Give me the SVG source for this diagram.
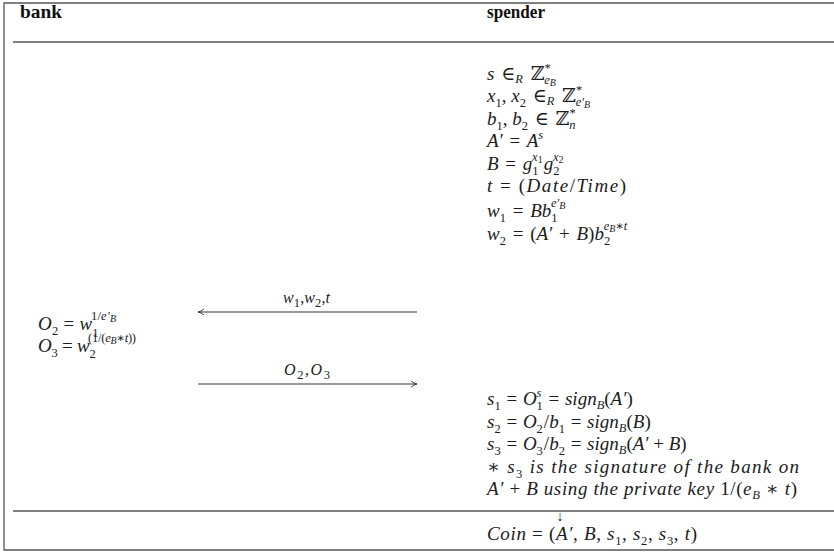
<svg xmlns="http://www.w3.org/2000/svg" width="834" height="554" viewBox="0 0 834 554">
<style>
.t{font-family:"Liberation Serif","DejaVu Serif",serif;font-size:19px;font-style:italic;fill:#1c1c1c}
.h{font-family:"Liberation Serif",serif;font-size:18px;font-weight:bold;fill:#111}
.r{font-style:normal}
.s{font-size:12.5px}
.x{font-size:10px}
.ln{stroke:#555;stroke-width:1.3;fill:none}
.ar{stroke:#333;stroke-width:1;fill:none}
</style>
<defs>
<marker id="hd" markerWidth="8" markerHeight="8" refX="6" refY="3" orient="auto" markerUnits="userSpaceOnUse">
<path d="M0,0 Q3,2.4 6,3 Q3,3.6 0,6" stroke="#333" stroke-width="0.9" fill="none"/>
</marker>
</defs>
<rect width="834" height="554" fill="#fff"/>
<g id="frame">
<path class="ln" d="M834,3 H4 V550 H834"/>
<line class="ln" x1="13" y1="42" x2="834" y2="42"/>
<line class="ln" x1="13" y1="511" x2="834" y2="511"/>
</g>
<g id="header">
<text class="h" x="20" y="18" textLength="42" lengthAdjust="spacingAndGlyphs">bank</text>
<text class="h" x="487" y="18" textLength="58" lengthAdjust="spacingAndGlyphs">spender</text>
</g>
<g id="spender">
<text class="t" x="487" y="80">s <tspan class="r" dx="2">∈</tspan><tspan class="s" dy="3">R</tspan><tspan class="r" dx="3" dy="-3"> ℤ</tspan><tspan class="s r" dy="-8">*</tspan><tspan class="s" dx="-6.5" dy="12">e</tspan><tspan class="x" dy="2">B</tspan></text>
<text class="t" x="487" y="102">x<tspan class="s r" dy="5">1</tspan><tspan class="r" dy="-5">, </tspan>x<tspan class="s r" dy="5">2</tspan><tspan class="r" dx="2" dy="-5"> ∈</tspan><tspan class="s" dy="3">R</tspan><tspan class="r" dx="3" dy="-3"> ℤ</tspan><tspan class="s r" dy="-8">*</tspan><tspan class="s" dx="-6.5" dy="12">e′</tspan><tspan class="x" dy="2">B</tspan></text>
<text class="t" x="487" y="125">b<tspan class="s r" dy="5">1</tspan><tspan class="r" dy="-5">, </tspan>b<tspan class="s r" dy="5">2</tspan><tspan class="r" dx="2" dy="-5"> ∈ </tspan><tspan class="r" dx="2">ℤ</tspan><tspan class="s r" dy="-8">*</tspan><tspan class="s" dx="-6.5" dy="12">n</tspan></text>
<text class="t" x="487" y="147">A′ <tspan class="r" dx="2">=</tspan><tspan dx="2"> A</tspan><tspan class="s" dy="-8">s</tspan></text>
<text class="t" x="487" y="170">B <tspan class="r" dx="2">=</tspan><tspan dx="2"> g</tspan><tspan class="s r" dy="5">1</tspan><tspan class="s" dx="-6.5" dy="-14">x</tspan><tspan class="x r" dy="2">1</tspan><tspan dx="1" dy="7">g</tspan><tspan class="s r" dy="5">2</tspan><tspan class="s" dx="-6.5" dy="-14">x</tspan><tspan class="x r" dy="2">2</tspan></text>
<text class="t" x="487" y="192" textLength="139">t <tspan class="r">= (</tspan>Date<tspan class="r">/</tspan>Time<tspan class="r">)</tspan></text>
<text class="t" x="487" y="217">w<tspan class="s r" dy="5">1</tspan><tspan class="r" dx="2" dy="-5"> = </tspan><tspan dx="2">Bb</tspan><tspan class="s r" dy="5">1</tspan><tspan class="s" dx="-6.5" dy="-15">e′</tspan><tspan class="x" dy="2">B</tspan></text>
<text class="t" x="487" y="240">w<tspan class="s r" dy="5">2</tspan><tspan class="r" dx="2" dy="-5"> = </tspan><tspan class="r" dx="2">(</tspan>A′ <tspan class="r" dx="2">+</tspan><tspan dx="2"> B</tspan><tspan class="r">)</tspan>b<tspan class="s r" dy="5">2</tspan><tspan class="s" dx="-6.5" dy="-15">e</tspan><tspan class="x" dy="2">B</tspan><tspan class="s" dy="-2">∗t</tspan></text>
<text class="t" x="487" y="405">s<tspan class="s r" dy="5">1</tspan><tspan class="r" dx="1" dy="-5"> = </tspan><tspan dx="1">O</tspan><tspan class="s" dy="-8">s</tspan><tspan class="s r" dx="-5" dy="13">1</tspan><tspan class="r" dx="1" dy="-5"> = </tspan><tspan dx="1">sign</tspan><tspan class="s" dy="4">B</tspan><tspan class="r" dy="-4">(</tspan>A′<tspan class="r">)</tspan></text>
<text class="t" x="487" y="428">s<tspan class="s r" dy="5">2</tspan><tspan class="r" dx="1" dy="-5"> = </tspan><tspan dx="1">O</tspan><tspan class="s r" dy="5">2</tspan><tspan class="r" dx="1" dy="-5">/</tspan>b<tspan class="s r" dy="5">1</tspan><tspan class="r" dx="1" dy="-5"> = </tspan><tspan dx="1">sign</tspan><tspan class="s" dy="4">B</tspan><tspan class="r" dy="-4">(</tspan>B<tspan class="r">)</tspan></text>
<text class="t" x="487" y="450">s<tspan class="s r" dy="5">3</tspan><tspan class="r" dx="1" dy="-5"> = </tspan><tspan dx="1">O</tspan><tspan class="s r" dy="5">3</tspan><tspan class="r" dx="1" dy="-5">/</tspan>b<tspan class="s r" dy="5">2</tspan><tspan class="r" dx="1" dy="-5"> = </tspan><tspan dx="1">sign</tspan><tspan class="s" dy="4">B</tspan><tspan class="r" dy="-4">(</tspan>A′ <tspan class="r">+</tspan> B<tspan class="r">)</tspan></text>
<text class="t" x="487" y="473" textLength="312"><tspan class="r">∗</tspan> s<tspan class="s r" dy="5">3</tspan><tspan dy="-5"> is the signature of the bank on</tspan></text>
<text class="t" x="487" y="495" textLength="310">A′ <tspan class="r">+</tspan> B using the private key <tspan class="r">1/(</tspan>e<tspan class="s" dy="4">B</tspan><tspan class="r" dy="-4"> ∗ </tspan>t<tspan class="r">)</tspan></text>
<text class="t" x="487" y="540" textLength="210">Coin <tspan class="r">= (</tspan>A′<tspan class="r">, </tspan>B<tspan class="r">, </tspan>s<tspan class="s r" dy="5">1</tspan><tspan class="r" dy="-5">, </tspan>s<tspan class="s r" dy="5">2</tspan><tspan class="r" dy="-5">, </tspan>s<tspan class="s r" dy="5">3</tspan><tspan class="r" dy="-5">, </tspan>t<tspan class="r">)</tspan></text>
<text class="t r" x="560" y="521" text-anchor="middle" style="font-size:14px">↓</text>
</g>
<g id="bank">
<text class="t" x="38" y="330" textLength="78">O<tspan class="s r" dy="5">2</tspan><tspan class="r" dy="-5"> = </tspan>w<tspan class="s r" dy="7">1</tspan><tspan class="s r" dx="-7.5" dy="-17">1/</tspan><tspan class="s">e′</tspan><tspan class="x" dy="2">B</tspan></text>
<text class="t" x="38" y="352" textLength="98">O<tspan class="s r" dy="5">3</tspan><tspan class="r" dy="-5"> = </tspan>w<tspan class="s r" dy="6">2</tspan><tspan class="s r" dx="-7.5" dy="-16">(1/(</tspan><tspan class="s">e</tspan><tspan class="x" dy="2">B</tspan><tspan class="s" dy="-2">∗t</tspan><tspan class="s r">))</tspan></text>
</g>
<g id="connectors">
<line class="ar" x1="417" y1="312" x2="198" y2="312" marker-end="url(#hd)"/>
<text class="t" x="283" y="303" textLength="47" style="font-size:16px">w<tspan class="s r" dy="4">1</tspan><tspan class="r" dy="-4">,</tspan>w<tspan class="s r" dy="4">2</tspan><tspan class="r" dy="-4">,</tspan>t</text>
<line class="ar" x1="198" y1="384" x2="417" y2="384" marker-end="url(#hd)"/>
<text class="t" x="284" y="375" textLength="46" style="font-size:16px">O<tspan class="s r" dy="4">2</tspan><tspan class="r" dy="-4">,</tspan>O<tspan class="s r" dy="4">3</tspan></text>
</g>
</svg>
